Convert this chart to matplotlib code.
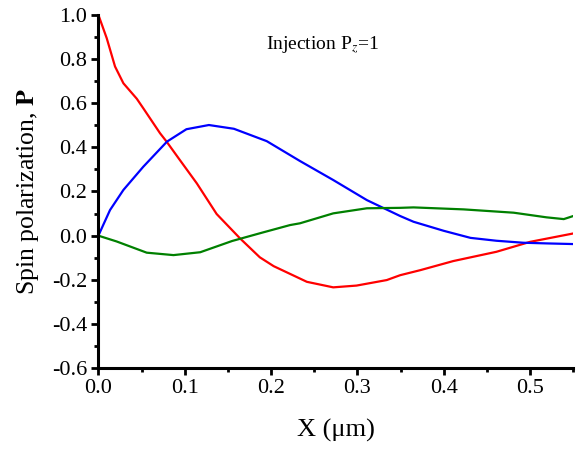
import matplotlib
matplotlib.use("Agg")
import matplotlib.pyplot as plt
from matplotlib.ticker import MultipleLocator

plt.rcParams["font.family"] = "Liberation Serif"
plt.rcParams["mathtext.fontset"] = "stix"

# red curve
red_x = [0.0, 0.0097, 0.0193, 0.029, 0.0445, 0.052, 0.0714, 0.079, 0.093, 0.114,
         0.137, 0.164, 0.187, 0.203, 0.2415, 0.272, 0.299, 0.334, 0.3495, 0.373,
         0.411, 0.461, 0.5, 0.55]
red_y = [1.0, 0.894, 0.766, 0.690, 0.620, 0.577, 0.464, 0.426, 0.35, 0.237,
         0.098, -0.012, -0.098, -0.138, -0.209, -0.234, -0.226, -0.201, -0.179, -0.156,
         -0.115, -0.073, -0.028, 0.010]

# blue curve
blue_x = [0.0, 0.0135, 0.029, 0.052, 0.0795, 0.102, 0.128, 0.157, 0.195,
          0.2335, 0.272, 0.311, 0.3495, 0.365, 0.400, 0.431, 0.461, 0.492, 0.519, 0.55]
blue_y = [0.0, 0.116, 0.207, 0.312, 0.426, 0.482, 0.501, 0.484, 0.428,
          0.338, 0.252, 0.161, 0.089, 0.063, 0.022, -0.010, -0.023, -0.032, -0.035, -0.038]

# green curve
green_x = [0.0, 0.021, 0.056, 0.087, 0.118, 0.155, 0.19, 0.222, 0.2335, 0.272,
           0.311, 0.3495, 0.365, 0.423, 0.481, 0.519, 0.539, 0.55]
green_y = [0.0, -0.026, -0.077, -0.088, -0.075, -0.024, 0.014, 0.048, 0.056, 0.101,
           0.124, 0.126, 0.128, 0.119, 0.104, 0.083, 0.075, 0.089]

fig = plt.figure(figsize=(5.82, 4.49), dpi=100)
ax = fig.add_axes([0.169, 0.180, 0.816, 0.787])

ax.plot(red_x, red_y, color="#ff0000", lw=1.6)
ax.plot(blue_x, blue_y, color="#0000ff", lw=1.6)
ax.plot(green_x, green_y, color="#008000", lw=1.6)

ax.set_xlim(0, 0.55)
ax.set_ylim(-0.6, 1.0)
ax.xaxis.set_major_locator(MultipleLocator(0.1))
ax.xaxis.set_minor_locator(MultipleLocator(0.05))
ax.yaxis.set_major_locator(MultipleLocator(0.2))
ax.yaxis.set_minor_locator(MultipleLocator(0.1))
ax.xaxis.set_major_formatter(lambda v, p: f"{v:.1f}")
ax.yaxis.set_major_formatter(lambda v, p: f"{v:.1f}")

for s in ["top", "right"]:
    ax.spines[s].set_visible(False)
for s in ["left", "bottom"]:
    ax.spines[s].set_linewidth(2.2)
ax.tick_params(which="major", direction="out", length=5, width=2, labelsize=16, pad=3)
ax.tick_params(which="minor", direction="out", length=3, width=2)

ax.set_xlabel("X (\u03bcm)", fontsize=19, labelpad=15)
ax.set_ylabel(r"Spin polarization, $\mathbf{P}$", fontsize=18.5, labelpad=8)

ax.text(0.352, 0.915, r"Injection P$_z$=1", transform=ax.transAxes,
        fontsize=14, va="center")

fig.savefig("out.png", dpi=100)
